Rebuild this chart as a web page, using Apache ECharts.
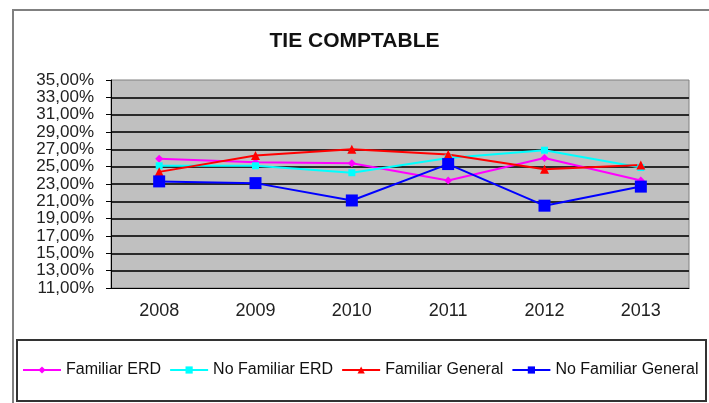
<!DOCTYPE html>
<html>
<head>
<meta charset="utf-8">
<script src="https://cdn.jsdelivr.net/npm/echarts@6/dist/echarts.min.js"></script>
<style>
  html, body { margin: 0; padding: 0; background: #fff; }
  #main { width: 709px; height: 403px; }
</style>
</head>
<body>
<div id="main"></div>
<script>
var years = ['2008', '2009', '2010', '2011', '2012', '2013'];
var familiarErd = [25.9, 25.5, 25.4, 23.4, 26.0, 23.4];
var noFamiliarErd = [25.1, 25.1, 24.3, 26.0, 26.9, 24.9];
var familiarGeneral = [24.4, 26.3, 27.0, 26.4, 24.7, 25.2];
var noFamiliarGeneral = [23.3, 23.1, 21.1, 25.3, 20.5, 22.7];

var chart = echarts.init(document.getElementById('main'));

// un petit helper pour les séries
function serie(name, data, color, symbol, size) {
  return {
    name: name,
    type: 'line',
    data: data,
    symbol: symbol,
    symbolSize: size,
    lineStyle: { color: color, width: 2 },
    itemStyle: { color: color },
    animation: false
  };
}

var option = {
  backgroundColor: '#fff',
  textStyle: { fontFamily: 'Arial, "Liberation Sans", sans-serif' },
  title: {
    text: 'TIE COMPTABLE',
    left: 'center',
    top: 26,
    textStyle: { fontSize: 21, fontWeight: 'bold', color: '#111' }
  },
  graphic: [
    { type: 'rect', shape: { x: 13, y: 10, width: 800, height: 500 },
      style: { fill: 'none', stroke: '#808080', lineWidth: 2 } },
    { type: 'rect', shape: { x: 17, y: 340, width: 689, height: 61 },
      style: { fill: 'none', stroke: '#333', lineWidth: 2 } }
  ],
  legend: {
    left: 22,
    top: 362,
    width: 720,
    padding: 0,
    itemWidth: 38,
    itemHeight: 9,
    itemGap: 8,
    textStyle: { fontSize: 16, color: '#111' },
    data: ['Familiar ERD', 'No Familiar ERD', 'Familiar General', 'No Familiar General']
  },
  grid: {
    left: 111,
    right: 20,
    top: 80,
    bottom: 115,
    show: true,
    backgroundColor: '#c0c0c0',
    borderColor: '#808080',
    borderWidth: 1
  },
  xAxis: {
    type: 'category',
    data: years,
    boundaryGap: true,
    axisLine: { lineStyle: { color: '#000', width: 1 } },
    axisTick: { length: 5, lineStyle: { color: '#000' } },
    axisLabel: { fontSize: 18, color: '#222', margin: 14 }
  },
  yAxis: {
    type: 'value',
    min: 11,
    max: 35,
    interval: 2,
    axisLine: { show: true, lineStyle: { color: '#000', width: 1 } },
    axisTick: { show: true, length: 5, lineStyle: { color: '#000' } },
    axisLabel: {
      fontSize: 17,
      color: '#222',
      margin: 17,
      formatter: function (v) { return v.toFixed(2).replace('.', ',') + '%'; }
    },
    splitLine: {
      show: true,
      showMinLine: false,
      showMaxLine: false,
      lineStyle: { color: '#2a2a2a', width: 2 }
    }
  },
  series: [
    serie('Familiar ERD', familiarErd, '#ff00ff', 'diamond', 8),
    serie('No Familiar ERD', noFamiliarErd, '#00ffff', 'rect', 7),
    serie('Familiar General', familiarGeneral, '#ff0000', 'triangle', 9),
    serie('No Familiar General', noFamiliarGeneral, '#0000ff', 'rect', 12)
  ]
};

chart.setOption(option);
</script>
</body>
</html>
